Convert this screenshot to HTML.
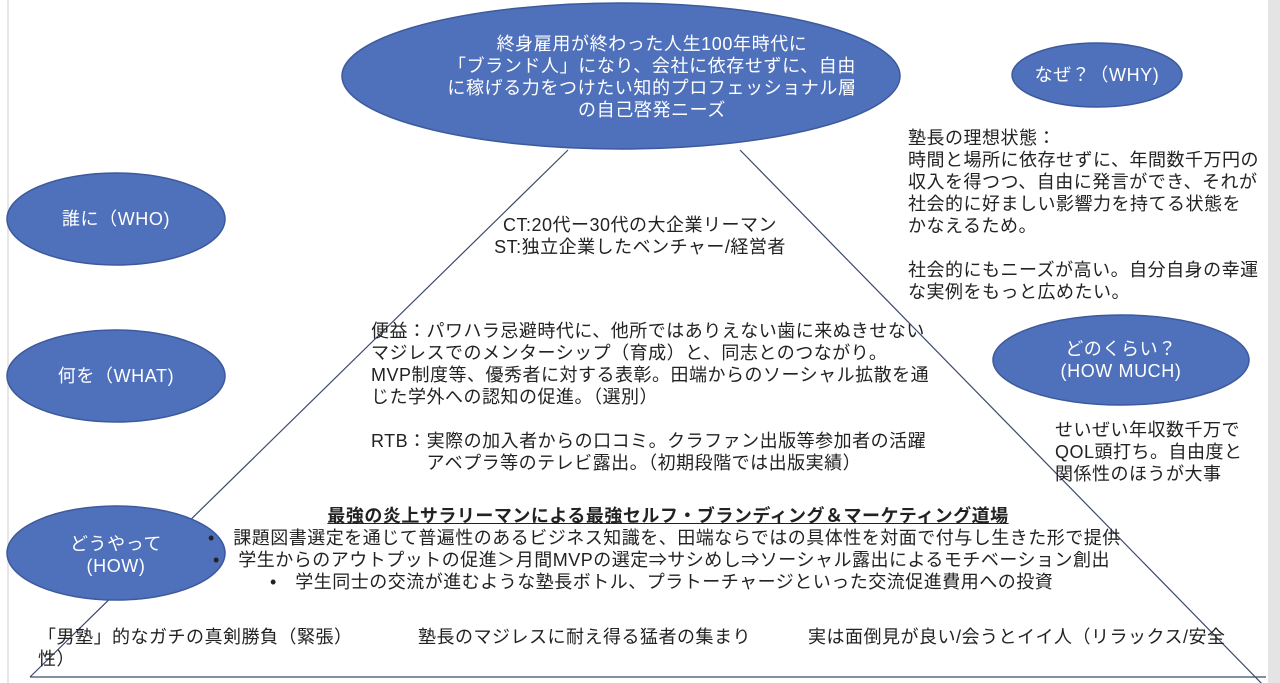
<!DOCTYPE html>
<html><head><meta charset="utf-8"><style>
body{margin:0;width:1280px;height:683px;overflow:hidden;background:#fff;position:relative;font-family:"Liberation Sans","Noto Sans CJK JP",sans-serif;color:#222}
.t{position:absolute;font-size:18px;line-height:22px;white-space:pre;letter-spacing:0.5px}
svg{position:absolute;left:0;top:0}
.e{font-size:18px;fill:#fff;letter-spacing:0.6px}
</style></head><body>
<svg width="1280" height="683">
<rect x="1268" y="0" width="12" height="683" fill="#e4e4e4"/>
<line x1="8" y1="0" x2="8" y2="683" stroke="#e6e6e6" stroke-width="2"/>
<line x1="568" y1="150" x2="30" y2="677" stroke="#3a4a6a" stroke-width="1.2"/>
<line x1="740" y1="150" x2="1268" y2="690" stroke="#3a4a6a" stroke-width="1.2"/>
<line x1="30" y1="677" x2="1266" y2="677" stroke="#3a4a6a" stroke-width="1.2"/>
<g fill="#4f70bb" stroke="#3d5a9c" stroke-width="1.5">
<ellipse cx="621" cy="76" rx="279" ry="73"/>
<ellipse cx="116" cy="219" rx="109" ry="46"/>
<ellipse cx="116" cy="376" rx="109" ry="46"/>
<ellipse cx="116" cy="553" rx="109" ry="47"/>
<ellipse cx="1097" cy="75" rx="85" ry="32"/>
<ellipse cx="1121" cy="360" rx="128" ry="45"/>
</g>
<g class="e" text-anchor="middle" font-family="Liberation Sans, Noto Sans CJK JP, sans-serif">
<text x="652" y="50">終身雇用が終わった人生100年時代に</text>
<text x="652" y="72">「ブランド人」になり、会社に依存せずに、自由</text>
<text x="652" y="94">に稼げる力をつけたい知的プロフェッショナル層</text>
<text x="652" y="116">の自己啓発ニーズ</text>
<text x="116" y="225">誰に（WHO)</text>
<text x="116" y="382">何を（WHAT)</text>
<text x="116" y="550">どうやって</text>
<text x="116" y="572">(HOW)</text>
<text x="1097" y="81">なぜ？（WHY)</text>
<text x="1121" y="355">どのくらい？</text>
<text x="1121" y="377">(HOW MUCH)</text>
</g>
</svg>
<div class="t" style="left:908px;top:127px">塾長の理想状態：
時間と場所に依存せずに、年間数千万円の
収入を得つつ、自由に発言ができ、それが
社会的に好ましい影響力を持てる状態を
かなえるため。

社会的にもニーズが高い。自分自身の幸運
な実例をもっと広めたい。</div>
<div class="t" style="left:440px;top:214px;width:400px;text-align:center">CT:20代ー30代の大企業リーマン
ST:独立企業したベンチャー/経営者</div>
<div class="t" style="left:371px;top:320px">便益：パワハラ忌避時代に、他所ではありえない歯に来ぬきせない
マジレスでのメンターシップ（育成）と、同志とのつながり。
MVP制度等、優秀者に対する表彰。田端からのソーシャル拡散を通
じた学外への認知の促進。（選別）

RTB：実際の加入者からの口コミ。クラファン出版等参加者の活躍
　　　アベプラ等のテレビ露出。（初期段階では出版実績）</div>
<div class="t" style="left:1055px;top:419px">せいぜい年収数千万で
QOL頭打ち。自由度と
関係性のほうが大事</div>
<div class="t" style="left:0;top:505px;width:1336px;text-align:center;font-weight:bold;text-decoration:underline">最強の炎上サラリーマンによる最強セルフ・ブランディング＆マーケティング道場</div>
<div class="t" style="left:208px;top:527px">•　課題図書選定を通じて普遍性のあるビジネス知識を、田端ならではの具体性を対面で付与し生きた形で提供</div>
<div class="t" style="left:213px;top:549px">•　学生からのアウトプットの促進＞月間MVPの選定⇒サシめし⇒ソーシャル露出によるモチベーション創出</div>
<div class="t" style="left:270px;top:571px">•　学生同士の交流が進むような塾長ボトル、プラトーチャージといった交流促進費用への投資</div>
<div class="t" style="left:38px;top:626px">「男塾」的なガチの真剣勝負（緊張）
性）</div>
<div class="t" style="left:418px;top:626px">塾長のマジレスに耐え得る猛者の集まり</div>
<div class="t" style="left:808px;top:626px">実は面倒見が良い/会うとイイ人（リラックス/安全</div>
</body></html>
